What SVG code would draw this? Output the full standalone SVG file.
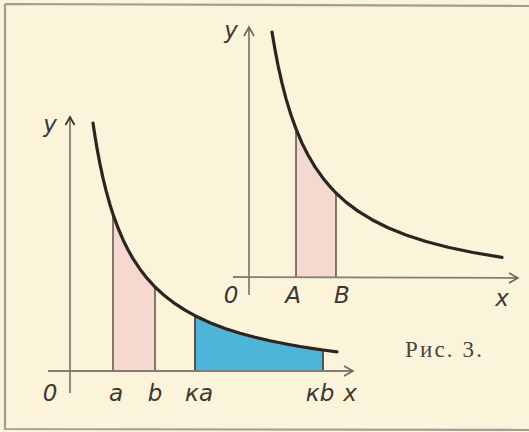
<svg xmlns="http://www.w3.org/2000/svg" width="529" height="432" viewBox="0 0 529 432">
<defs>
<marker id="arr" markerWidth="14" markerHeight="14" refX="11" refY="7" orient="auto" markerUnits="userSpaceOnUse">
<path d="M2,2 L11,7 L2,12" fill="none" stroke="#6f665e" stroke-width="1.6"/>
</marker>
<marker id="arrY" markerWidth="12" markerHeight="12" refX="10" refY="6" orient="auto" markerUnits="userSpaceOnUse">
<path d="M2,1.5 L10,6 L2,10.5" fill="none" stroke="#3a332d" stroke-width="1.8"/>
</marker>
<style>
.axis{stroke:#857b72;stroke-width:1.8;fill:none}
.curve{stroke:#2a2520;stroke-width:3.2;fill:none;stroke-linecap:round;stroke-linejoin:round}
.ord{stroke:#4e463f;stroke-width:1.4}
.pink{fill:#f5d9d0}
.blue{fill:#4fb5d8}
.lbl{font-family:"DejaVu Sans","Liberation Sans",sans-serif;font-style:italic;font-size:23px;fill:#3d3732;text-anchor:middle}
.cap{font-family:"Liberation Serif","DejaVu Serif",serif;font-size:23px;fill:#4a443e}
</style>
</defs>
<rect x="0" y="0" width="529" height="432" fill="#fbf4da"/>
<path d="M5,4 L529,6 M5,4 L5,430 M5,429 L529,430" fill="none" stroke="#a39c90" stroke-width="2.2"/>

<g id="graph-left">
<g id="fills-left">
<path class="pink" d="M113,371 L113,214.2 L118,227.9 L123,239.7 L128,249.8 L133,258.6 L140,269.2 L147,278.2 L155,287 L155,371 Z"/>
<path class="blue" d="M195,371 L195,315.7 L210,322.7 L225,328.4 L240,333.2 L255,337.2 L270,340.8 L285,343.8 L300,346.5 L315,348.8 L323,350 L323,371 Z"/>
</g>
<g id="ordinates-left">
<line class="ord" x1="113" y1="214" x2="113" y2="371"/>
<line class="ord" x1="155" y1="287" x2="155" y2="371"/>
<line class="ord" x1="195" y1="316" x2="195" y2="371" style="stroke-width:1.8"/>
<line class="ord" x1="323" y1="350" x2="323" y2="371" style="stroke-width:1.8"/>
</g>
<path id="curve-left" class="curve" d="M93,123 L95,136.2 L97,148.2 L100,164.1 L103,178.1 L106,190.4 L110,204.7 L113,214.2 L118,227.9 L123,239.7 L128,249.8 L133,258.6 L140,269.2 L147,278.2 L155,287 L165,296.1 L175,303.7 L185,310.2 L195,315.7 L210,322.7 L225,328.4 L240,333.2 L255,337.2 L270,340.8 L285,343.8 L300,346.5 L315,348.8 L323,350 L337,351.9"/>
<text class="lbl" x="50" y="132">y</text>
<text class="lbl" x="50" y="401">0</text>
<text class="lbl" x="116" y="401">a</text>
<text class="lbl" x="155" y="401">b</text>
<text class="lbl" x="199" y="401">кa</text>
<text class="lbl" x="320" y="401">кb</text>
<text class="lbl" x="350" y="401">x</text>
</g>

<g id="graph-right">
<path id="fill-right" class="pink" d="M296,277 L296,128.9 L302,143.1 L308,155 L315,166.9 L323,178.2 L330,186.6 L336,193 L336,277 Z"/>
<g id="ordinates-right">
<line class="ord" x1="296" y1="129" x2="296" y2="277"/>
<line class="ord" x1="336" y1="193" x2="336" y2="277"/>
</g>
<path id="curve-right" class="curve" d="M272,32 L275,49.7 L278,65.3 L282,83.2 L286,98.6 L291,115 L296,128.9 L302,143.1 L308,155 L315,166.9 L323,178.2 L330,186.6 L336,193 L346,202.1 L358,211.1 L372,219.7 L388,227.7 L406,235 L426,241.5 L448,247.2 L473,252.5 L502,257.4"/>
<text class="lbl" x="231" y="38">y</text>
<text class="lbl" x="231" y="303">0</text>
<text class="lbl" x="293" y="303">A</text>
<text class="lbl" x="342" y="303">B</text>
<text class="lbl" x="502" y="306">x</text>
</g>

<g id="connectors">
<line class="axis" x1="70" y1="393" x2="70" y2="117" marker-end="url(#arrY)"/>
<line class="axis" x1="48" y1="371" x2="353" y2="371" marker-end="url(#arr)"/>
<line class="axis" x1="249" y1="295" x2="249" y2="27" marker-end="url(#arr)"/>
<line class="axis" x1="233" y1="277" x2="518" y2="278" marker-end="url(#arr)"/>
</g>

<text class="cap" x="405" y="357" textLength="77" lengthAdjust="spacing">Рис. 3.</text>
</svg>
